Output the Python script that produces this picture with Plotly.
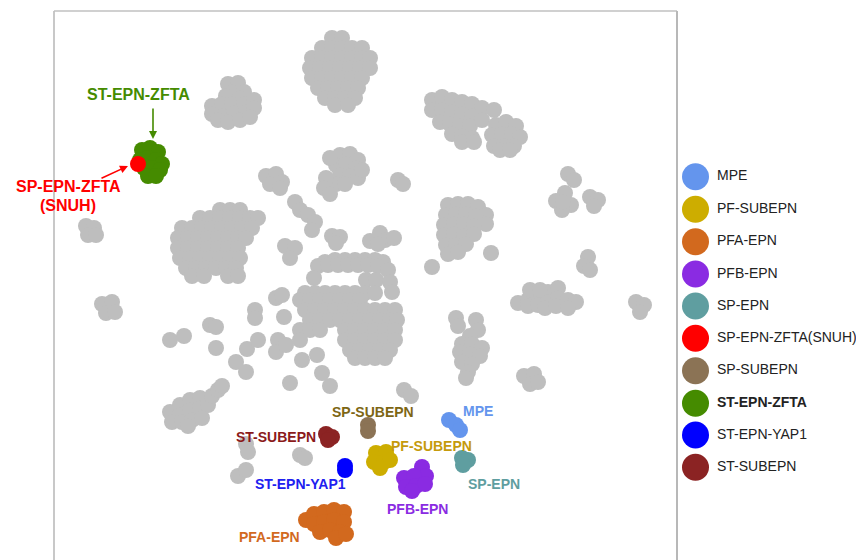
import plotly.graph_objects as go

# ---------------- data (embedding coordinates, 2 dims) ----------------
REFERENCE_GRAY = [
    # top centre cluster
    (332,38),(342,38),
    (322,48),(332,48),(342,48),(352,48),(362,48),
    (312,58),(322,58),(332,58),(342,58),(352,58),(362,58),(370,58),
    (310,68),(320,68),(330,68),(340,68),(350,68),(360,68),(370,68),
    (312,78),(322,78),(332,78),(342,78),(352,78),(362,78),
    (318,88),(328,88),(338,88),(348,88),(358,88),
    (325,98),(335,98),(345,98),(355,98),(335,105),(348,105),
    # upper left cluster
    (228,84),(238,83),(232,92),(244,92),(226,96),(240,98),(212,106),(222,104),(232,104),
    (244,104),(254,100),(212,114),(222,116),(234,113),(246,112),(254,108),(218,120),
    (228,122),(240,120),(250,117),
    # top right clusters
    (432,100),(442,97),(452,100),(462,102),(472,104),(482,108),(494,110),(432,110),(442,110),
    (452,112),(462,114),(472,116),(440,122),(450,124),(460,126),(470,126),(452,134),(462,136),
    (472,138),(462,142),(474,142),(482,120),
    (496,125),(506,122),(516,126),(492,135),(502,134),(512,134),(520,137),(494,146),(504,146),
    (514,146),(500,150),(510,150),
    # small isolated clusters upper half
    (398,180),(403,184),
    (568,174),(574,180),
    (565,193),(556,201),(571,205),(562,210),(563,202),
    (590,197),(598,200),(594,206),
    (86,226),(94,228),(88,235),(96,235),
    (266,176),(276,174),(282,182),(270,184),(280,188),
    (340,155),(350,154),(358,160),(336,165),(346,164),(356,168),(340,175),(350,176),(358,178),
    (330,158),(362,170),(336,184),(345,184),(326,178),(324,188),(330,194),
    (295,202),(300,210),(308,215),(315,222),(312,230),
    (285,246),(295,248),(290,258),
    (332,236),(340,237),(336,243),
    (370,241),(380,233),(385,240),(394,238),(378,244),
    # right middle cluster
    (448,205),(458,204),(468,204),(478,207),(486,215),(446,215),(456,214),(466,214),(476,216),
    (486,224),(444,225),(454,224),(464,224),(474,226),(444,235),(454,234),(464,236),(474,234),
    (446,245),(456,245),(466,244),(448,254),(458,252),
    (491,253),(432,267),
    (588,257),(584,266),(590,270),
    (518,303),(528,300),(538,296),(548,292),(558,288),(530,290),(540,290),(528,306),(538,305),
    (548,302),(558,298),(568,300),(576,302),(545,308),(556,306),(568,308),
    (636,302),(644,305),(640,312),
    (456,318),(458,326),(476,320),(478,330),(470,336),(462,344),(472,344),(482,348),(460,352),
    (470,354),(480,356),(462,362),(472,364),(468,372),(466,378),
    (524,376),(534,374),(530,384),(538,382),
    (404,390),(411,396),
    # large left cluster
    (220,210),(230,210),(240,210),
    (200,218),(210,218),(220,218),(230,218),(240,218),(250,218),(258,218),
    (182,228),(192,228),(202,228),(212,228),(222,228),(232,228),(242,228),(252,228),
    (178,238),(188,238),(198,238),(208,238),(218,238),(228,238),(238,238),(246,238),
    (178,248),(188,248),(198,248),(208,248),(218,248),(228,248),(238,248),
    (180,258),(190,258),(200,258),(210,258),(220,258),(230,258),(240,258),
    (186,268),(196,268),(206,268),(216,268),(226,268),(236,268),
    (192,276),(204,276),(228,276),(238,276),
    # central complex (ring + lower masses)
    (325,262),(335,260),(345,260),(355,260),(365,260),(375,260),(383,262),
    (318,266),(328,265),(338,265),(348,265),(358,265),(368,265),(378,266),(388,270),
    (314,278),(366,280),(376,280),(390,282),
    (305,293),(315,293),(325,293),(335,293),(345,293),(355,293),(365,293),(375,293),(392,292),
    (300,300),(310,300),(320,300),(330,300),(340,300),(350,300),(360,300),
    (305,310),(315,310),(325,310),(335,310),(345,310),(355,310),(365,310),(375,310),(385,310),(395,310),
    (310,320),(320,320),(330,320),(340,320),(350,320),(360,320),(370,320),(380,320),(390,320),(397,320),
    (300,330),(310,330),(320,330),(345,330),(355,330),(365,330),(375,330),(385,330),(395,330),
    (300,340),(345,340),(355,340),(365,340),(375,340),(385,340),(395,340),
    (350,350),(360,350),(370,350),(380,350),(390,350),
    (355,358),(365,358),(375,358),(385,358),
    (276,298),(282,295),(284,317),(255,310),(255,318),
    (278,340),(276,352),(286,345),(302,360),(317,355),(290,383),(322,373),(330,386),
    # lower left small clusters
    (102,304),(112,302),(106,313),(115,312),
    (170,340),(184,336),
    (210,325),(216,327),
    (216,348),
    (247,349),(258,340),
    (236,362),(246,372),
    (170,412),(180,405),(190,400),(200,398),(180,415),(190,410),(200,408),(208,405),
    (172,422),(182,422),(192,420),(202,418),(188,426),(212,396),(218,390),(222,386),
    (246,444),(248,452),
    (238,476),(246,470),
    (300,455),(305,458),
]

ST_EPN_ZFTA = [(142,150),(150,148),(158,152),(140,160),(148,158),(156,160),(162,164),
               (144,168),(152,168),(160,170),(148,176),(156,176)]
SP_EPN_ZFTA_SNUH = [(138,164)]
ST_SUBEPN = [(326,434),(332,437),(328,440)]
SP_SUBEPN = [(368,425),(368,431)]
MPE = [(449,420),(456,425),(460,430)]
PF_SUBEPN = [(376,453),(386,452),(374,462),(384,462),(390,460),(380,468)]
ST_EPN_YAP1 = [(345,466),(345,470)]
SP_EPN = [(462,458),(468,460),(463,465)]
PFB_EPN = [(422,467),(426,476),(404,478),(414,476),(406,487),(416,486),(425,484),(412,491)]
PFA_EPN = [(306,520),(314,514),(324,512),(334,510),(344,512),(314,524),(324,522),(334,520),
           (344,522),(320,532),(330,530),(340,532),(336,538),(346,534)]

LEGEND_NAMES = ["MPE", "PF-SUBEPN", "PFA-EPN", "PFB-EPN", "SP-EPN", "SP-EPN-ZFTA(SNUH)",
                "SP-SUBEPN", "ST-EPN-ZFTA", "ST-EPN-YAP1", "ST-SUBEPN"]
LEGEND_COLORS = ["#6495ED", "#CDAD00", "#D2691E", "#8A2BE2", "#5F9EA0", "#FF0000",
                 "#8B7355", "#458B00", "#0000FF", "#8B2323"]
LEGEND_Y = [176.7, 209.3, 241.7, 274, 306, 338.3, 370.7, 403.3, 435, 467.3]

GROUPS = [
    ("reference", REFERENCE_GRAY, "#BEBEBE"),
    ("ST-EPN-ZFTA", ST_EPN_ZFTA, "#458B00"),
    ("SP-EPN-ZFTA(SNUH)", SP_EPN_ZFTA_SNUH, "#FF0000"),
    ("ST-SUBEPN", ST_SUBEPN, "#8B2323"),
    ("SP-SUBEPN", SP_SUBEPN, "#8B7355"),
    ("MPE", MPE, "#6495ED"),
    ("PF-SUBEPN", PF_SUBEPN, "#CDAD00"),
    ("ST-EPN-YAP1", ST_EPN_YAP1, "#0000FF"),
    ("SP-EPN", SP_EPN, "#5F9EA0"),
    ("PFB-EPN", PFB_EPN, "#8A2BE2"),
    ("PFA-EPN", PFA_EPN, "#D2691E"),
]

LABELS = [  # text, x, y, colour, size
    ("ST-EPN-ZFTA", 138, 94, "#458B00", 16),
    ("SP-EPN-ZFTA", 68, 186, "#FF0000", 16),
    ("(SNUH)", 68, 205, "#FF0000", 16),
    ("SP-SUBEPN", 373, 412, "#7d6614", 14),
    ("ST-SUBEPN", 276, 437, "#8B1A1A", 14),
    ("MPE", 478, 411, "#6495ED", 14),
    ("PF-SUBEPN", 431, 446, "#C59A0C", 14),
    ("ST-EPN-YAP1", 300, 484, "#2020F0", 14),
    ("SP-EPN", 494, 484, "#5F9EA0", 14),
    ("PFB-EPN", 417, 509, "#8A2BE2", 14),
    ("PFA-EPN", 269, 537, "#D2691E", 14),
]

FONT = "Liberation Sans, Arial, sans-serif"

fig = go.Figure()
for name, pts, col in GROUPS:
    fig.add_trace(go.Scatter(
        x=[p[0] for p in pts], y=[p[1] for p in pts], mode="markers", name=name,
        marker=dict(size=16, color=col, line=dict(width=0)), showlegend=False,
        hoverinfo="skip", xaxis="x", yaxis="y"))

# manual legend on a second axis
fig.add_trace(go.Scatter(
    x=[695.5] * len(LEGEND_NAMES), y=LEGEND_Y, mode="markers",
    marker=dict(size=27, color=LEGEND_COLORS, line=dict(width=0)),
    showlegend=False, hoverinfo="skip", xaxis="x2", yaxis="y2"))
leg_text = ["<b>%s</b>" % n if n == "ST-EPN-ZFTA" else n for n in LEGEND_NAMES]
fig.add_trace(go.Scatter(
    x=[717] * len(LEGEND_NAMES), y=LEGEND_Y, mode="text", text=leg_text,
    textposition="middle right", textfont=dict(family=FONT, size=14, color="#222222"),
    showlegend=False, hoverinfo="skip", xaxis="x2", yaxis="y2"))

annotations = []
for txt, x, y, col, sz in LABELS:
    annotations.append(dict(x=x, y=y, xref="x", yref="y", text="<b>%s</b>" % txt,
                            showarrow=False, font=dict(family=FONT, size=sz, color=col),
                            xanchor="center", yanchor="middle"))
annotations.append(dict(x=153, y=139, ax=153, ay=107, xref="x", yref="y", axref="x", ayref="y",
                        text="", showarrow=True, arrowhead=2, arrowsize=1, arrowwidth=1.6,
                        arrowcolor="#458B00"))
annotations.append(dict(x=128, y=166, ax=100, ay=179, xref="x", yref="y", axref="x", ayref="y",
                        text="", showarrow=True, arrowhead=2, arrowsize=1, arrowwidth=1.6,
                        arrowcolor="#FF0000"))

DOM = 623 / 810
shapes = [
    dict(type="line", xref="paper", yref="paper", x0=0, x1=0, y0=0, y1=1,
         line=dict(color="#C8C8C8", width=2)),
    dict(type="line", xref="paper", yref="paper", x0=0, x1=DOM, y0=1, y1=1,
         line=dict(color="#C0C0C0", width=1.5)),
    dict(type="line", xref="paper", yref="paper", x0=DOM, x1=DOM, y0=0, y1=1,
         line=dict(color="#B8B8B8", width=2)),
]

# the page body has an 8px margin, so the figure is 8px smaller on each axis
hidden = dict(showgrid=False, zeroline=False, showticklabels=False, ticks="", showline=False)
fig.update_layout(
    width=856, height=552, margin=dict(l=46, r=0, t=3, b=0),
    paper_bgcolor="white", plot_bgcolor="white",
    xaxis=dict(domain=[0, DOM], range=[54, 677], **hidden),
    yaxis=dict(domain=[0, 1], range=[560, 11], **hidden),
    xaxis2=dict(domain=[DOM, 1], range=[677, 864], anchor="y2", **hidden),
    yaxis2=dict(domain=[0, 1], range=[560, 11], anchor="x2", **hidden),
    annotations=annotations, shapes=shapes, showlegend=False,
)

fig.write_html("out.html")
